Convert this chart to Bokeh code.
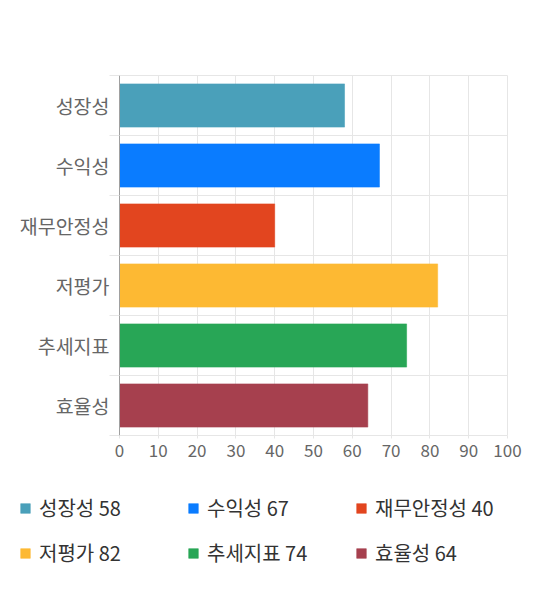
from bokeh.plotting import figure
from bokeh.models import (FactorRange, Range1d, LinearAxis, FixedTicker,
                          ColumnDataSource, Legend, LegendItem)
from bokeh.embed import file_html
from bokeh.resources import INLINE

categories = ["성장성", "수익성", "재무안정성", "저평가", "추세지표", "효율성"]
values = [58, 67, 40, 82, 74, 64]
colors = ["#4aa0ba", "#0a7cff", "#e2451f", "#fdb933", "#28a656", "#a6404e"]
x_ticks = [0, 10, 20, 30, 40, 50, 60, 70, 80, 90, 100]

FONT = "Noto Sans CJK KR"
GRID = "#e6e6e6"

src = ColumnDataSource(dict(
    cat=categories, val=values, color=colors,
    label=[f"{c} {v}" for c, v in zip(categories, values)]))

p = figure(width=540, height=470, output_backend="svg", toolbar_location=None,
           y_range=FactorRange(factors=list(reversed(categories))),
           x_range=Range1d(0, 100),
           min_border_left=119, min_border_right=33,
           min_border_top=75, min_border_bottom=35)

r = p.hbar(y="cat", left=0, right="val", height=0.72, source=src,
           fill_color="color", line_color="color", line_alpha=0.55)

# boundaries between categories
boundaries = list(range(len(categories) + 1))

# grids
p.xgrid.ticker = FixedTicker(ticks=x_ticks)
p.xgrid.grid_line_color = GRID
p.ygrid.axis = None
p.ygrid.ticker = FixedTicker(ticks=boundaries)
p.ygrid.grid_line_color = GRID
p.outline_line_color = GRID

# x axis
xa = p.xaxis[0]
xa.ticker = FixedTicker(ticks=x_ticks)
xa.axis_line_color = None
xa.major_tick_line_color = GRID
xa.major_tick_in = 0
xa.major_tick_out = 3
xa.minor_tick_line_color = None
xa.major_label_standoff = 5
xa.major_label_text_font = FONT
xa.major_label_text_font_size = "17px"
xa.major_label_text_color = "#666666"

# y label axis
ya = p.yaxis[0]
ya.axis_line_color = None
ya.major_tick_line_color = None
ya.major_label_standoff = -6
ya.major_label_text_font = FONT
ya.major_label_text_font_size = "19.5px"
ya.major_label_text_color = "#666666"

# inner tick axis with ticks on category boundaries
ta = LinearAxis(ticker=FixedTicker(ticks=boundaries),
                major_tick_out=10, major_tick_in=0,
                major_tick_line_color=GRID,
                minor_tick_line_color=None,
                axis_line_color="#a0a0a0",
                major_label_overrides={b: "" for b in boundaries},
                major_label_standoff=0)
p.left = [ta] + list(p.left)

# legend figure (bars out of view; only the legend is shown)
lf = figure(width=540, height=120, output_backend="svg", toolbar_location=None,
            y_range=FactorRange(factors=list(reversed(categories))),
            x_range=Range1d(-2, -1),
            x_axis_location=None, y_axis_location=None,
            min_border=0, min_border_left=0, min_border_right=0,
            min_border_top=0, min_border_bottom=0,
            outline_line_color=None)
lf.grid.visible = False
lr = lf.hbar(y="cat", left=0, right="val", height=0.72, source=src,
             fill_color="color", line_color="color", line_alpha=0.55)

items = [LegendItem(label=lab, renderers=[lr], index=i)
         for i, lab in enumerate(src.data["label"])]
legend = Legend(items=items, orientation="horizontal", ncols=3,
                location=(19, 23),
                glyph_width=12, glyph_height=12, label_standoff=8,
                label_width=132, spacing=16, padding=0, margin=0,
                border_line_color=None, background_fill_alpha=0,
                label_text_font=FONT, label_text_font_size="20px",
                label_text_color="#333333")
lf.add_layout(legend, "center")

open("out.html", "w").write(file_html([p, lf], INLINE))
